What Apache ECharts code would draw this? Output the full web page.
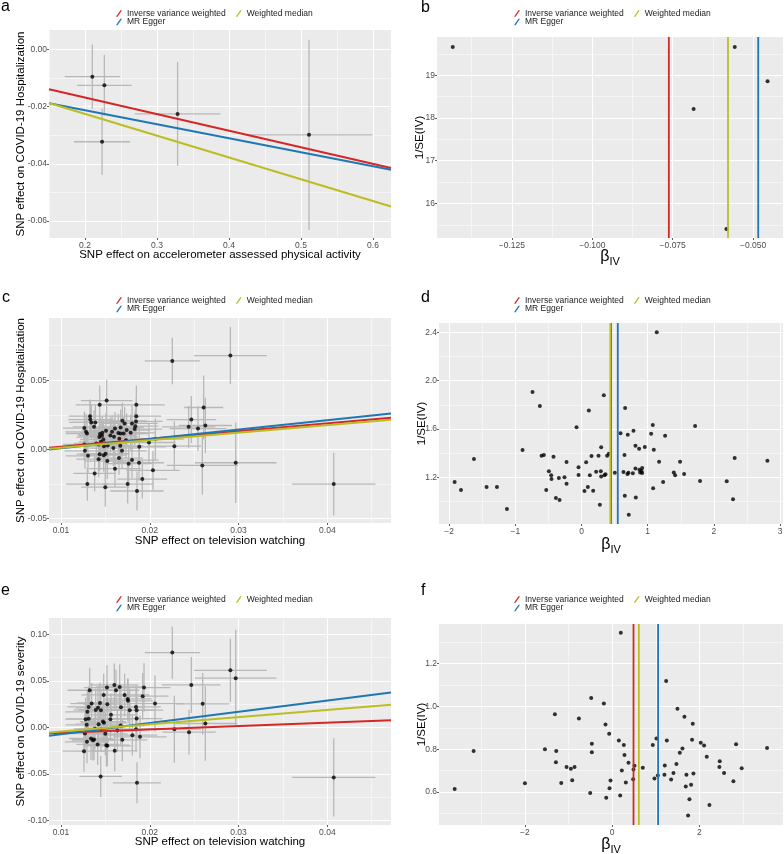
<!DOCTYPE html>
<html>
<head>
<meta charset="utf-8">
<script src="https://cdn.jsdelivr.net/npm/echarts@6/dist/echarts.min.js"></script>
<style>
  html, body { margin: 0; padding: 0; background: #fff; }
  #chart { width: 784px; height: 854px; }
</style>
</head>
<body>
<div id="chart"></div>
<script>
// methods, in legend order used below
const methods = ['Inverse variance weighted', 'MR Egger', 'Weighted median'];
const colors = ['#D62728', '#1F77B4', '#BCBD22'];

// panel a: [x, y, xerr, yerr]
const aPoints = [
  [0.2102, -0.0096, 0.0383, 0.0112],
  [0.2269, -0.0126, 0.0379, 0.0106],
  [0.2237, -0.0323, 0.0390, 0.0115],
  [0.3286, -0.0226, 0.0597, 0.0181],
  [0.5111, -0.0299, 0.0882, 0.0332]
];
const aLineStart = [-0.0140, -0.0189, -0.0188];   // y at x = 0.15
const aLineEnd = [-0.0415, -0.0421, -0.0549];     // y at x = 0.625
const aXTicks = [0.2, 0.3, 0.4, 0.5, 0.6];
const aYTicks = [-0.06, -0.04, -0.02, 0];

// panel b: [beta_IV, 1/SE]
const bPoints = [[-0.1434, 19.66], [-0.0685, 18.21], [-0.0557, 19.66], [-0.0583, 15.40], [-0.0455, 18.86]];
const bEstimates = [-0.0762, -0.0484, -0.0578];
const bXTicks = [-0.125, -0.1, -0.075, -0.05];
const bYTicks = [16, 17, 18, 19];

// panel c: [x, y, xerr, yerr]
const cPoints = [
  [0.02254, 0.0639, 0.0031, 0.0168], [0.02908, 0.0678, 0.0041, 0.0207], [0.04072, -0.0250, 0.0047, 0.0227],
  [0.02968, -0.0096, 0.0046, 0.0290], [0.02592, -0.0115, 0.0040, 0.0210], [0.02607, 0.0303, 0.0022, 0.0230],
  [0.02626, 0.0173, 0.0030, 0.0200], [0.02468, 0.0216, 0.0028, 0.0170], [0.02438, 0.0163, 0.0030, 0.0150],
  [0.02543, 0.0151, 0.0032, 0.0160], [0.02277, 0.0024, 0.0030, 0.0180], [0.02036, -0.0151, 0.0030, 0.0140],
  [0.01916, -0.0214, 0.0028, 0.0140], [0.01856, -0.0300, 0.0030, 0.0140], [0.01879, -0.0096, 0.0028, 0.0130],
  [0.01800, -0.0077, 0.0030, 0.0130], [0.01751, -0.0250, 0.0029, 0.0140], [0.01762, -0.0103, 0.0027, 0.0130],
  [0.01849, 0.0322, 0.0032, 0.0140], [0.01849, 0.0240, 0.0028, 0.0130], [0.01845, 0.0202, 0.0030, 0.0140],
  [0.01837, 0.0168, 0.0026, 0.0120], [0.01800, 0.0188, 0.0029, 0.0130], [0.01830, 0.0147, 0.0031, 0.0120],
  [0.01882, 0.0019, 0.0030, 0.0130], [0.02063, 0.0075, 0.0032, 0.0150], [0.01991, 0.0050, 0.0030, 0.0140],
  [0.01785, 0.0120, 0.0028, 0.0130], [0.01740, 0.0140, 0.0027, 0.0120], [0.01732, 0.0067, 0.0029, 0.0130],
  [0.01706, 0.0115, 0.0028, 0.0120], [0.01672, 0.0115, 0.0026, 0.0130], [0.01657, 0.0077, 0.0027, 0.0120],
  [0.01646, 0.0118, 0.0030, 0.0140], [0.01672, 0.0159, 0.0026, 0.0130], [0.01608, 0.0151, 0.0028, 0.0120],
  [0.01597, 0.0091, 0.0027, 0.0130], [0.01608, -0.0139, 0.0029, 0.0130], [0.01653, -0.0062, 0.0027, 0.0120],
  [0.01687, -0.0010, 0.0028, 0.0130], [0.01668, 0.0026, 0.0026, 0.0120], [0.01590, 0.0010, 0.0027, 0.0130],
  [0.01575, 0.0127, 0.0026, 0.0120], [0.01556, 0.0101, 0.0028, 0.0130], [0.01514, 0.0353, 0.0029, 0.0150],
  [0.01499, -0.0272, 0.0027, 0.0140], [0.01522, -0.0084, 0.0026, 0.0130], [0.01503, -0.0031, 0.0027, 0.0120],
  [0.01492, 0.0043, 0.0025, 0.0130], [0.01484, 0.0024, 0.0026, 0.0120], [0.01507, 0.0135, 0.0027, 0.0130],
  [0.01466, 0.0120, 0.0025, 0.0120], [0.01477, 0.0072, 0.0026, 0.0130], [0.01462, 0.0099, 0.0027, 0.0120],
  [0.01439, 0.0111, 0.0025, 0.0130], [0.01432, 0.0089, 0.0026, 0.0120], [0.01436, 0.0322, 0.0027, 0.0140],
  [0.01424, 0.0036, 0.0025, 0.0130], [0.01436, -0.0034, 0.0026, 0.0120], [0.01424, -0.0070, 0.0025, 0.0130],
  [0.01481, -0.0041, 0.0026, 0.0120], [0.01379, -0.0173, 0.0024, 0.0130], [0.01398, 0.0043, 0.0025, 0.0120],
  [0.01387, 0.0195, 0.0026, 0.0130], [0.01372, 0.0163, 0.0024, 0.0120], [0.01342, 0.0195, 0.0025, 0.0130],
  [0.01327, 0.0240, 0.0024, 0.0120], [0.01330, 0.0216, 0.0025, 0.0130], [0.01297, -0.0250, 0.0024, 0.0120],
  [0.01304, -0.0046, 0.0025, 0.0130], [0.01293, 0.0115, 0.0024, 0.0120], [0.01282, 0.0127, 0.0023, 0.0130],
  [0.01263, 0.0154, 0.0024, 0.0120], [0.01270, -0.0010, 0.0023, 0.0130], [0.01263, 0.0036, 0.0024, 0.0120],
  [0.01450, 0.0055, 0.0025, 0.0130], [0.01526, 0.0029, 0.0026, 0.0120], [0.01691, 0.0207, 0.0027, 0.0130],
  [0.01717, 0.0188, 0.0026, 0.0120]
];
const cLineStart = [0.0012, 0.0000, 0.0005];   // y at x = 0.00865
const cLineEnd = [0.0228, 0.0260, 0.0214];     // y at x = 0.04717
const cXTicks = [0.01, 0.02, 0.03, 0.04];
const cYTicks = [-0.05, 0, 0.05];

// panel d: [beta_IV, 1/SE]
const dPoints = [
  [-1.917, 1.161], [-1.821, 1.095], [-1.625, 1.352], [-1.434, 1.120], [-1.278, 1.120], [-1.127, 0.938],
  [-0.891, 1.426], [-0.740, 1.906], [-0.629, 1.790], [-0.604, 1.379], [-0.569, 1.385], [-0.423, 1.371],
  [-0.533, 1.095], [-0.493, 1.250], [-0.458, 1.217], [-0.453, 1.186], [-0.387, 1.029], [-0.342, 1.194],
  [-0.332, 1.012], [-0.257, 1.200], [-0.226, 1.327], [-0.226, 1.148], [-0.075, 1.614], [-0.045, 1.283],
  [-0.045, 1.219], [0.045, 1.087], [0.070, 1.324], [0.096, 1.120], [0.111, 1.754], [0.126, 1.217],
  [0.151, 1.377], [0.176, 1.090], [0.221, 1.247], [0.257, 1.379], [0.277, 0.974], [0.292, 1.250],
  [0.297, 1.448], [0.297, 1.206], [0.337, 1.879], [0.347, 1.217], [0.362, 1.225], [0.387, 1.379],
  [0.413, 1.396], [0.503, 1.239], [0.589, 1.564], [0.634, 1.244], [0.649, 1.385], [0.654, 1.048],
  [0.659, 1.774], [0.694, 1.228], [0.699, 1.553], [0.709, 1.239], [0.714, 0.891], [0.775, 1.233],
  [0.785, 1.586], [0.815, 1.462], [0.815, 1.274], [0.820, 1.034], [0.870, 1.437], [0.875, 1.263],
  [0.886, 1.241], [0.906, 1.252], [0.916, 1.277], [0.916, 1.236], [0.956, 1.451], [1.052, 1.561],
  [1.077, 1.633], [1.082, 1.109], [1.092, 1.429], [1.137, 2.400], [1.172, 1.330], [1.233, 1.161],
  [1.263, 1.545], [1.394, 1.241], [1.414, 1.217], [1.489, 1.330], [1.550, 1.228], [1.716, 1.625],
  [1.791, 1.170], [2.194, 1.167], [2.289, 1.018], [2.314, 1.360], [2.808, 1.338]
];
const dEstimates = [0.445, 0.548, 0.435];
const dXTicks = [-2, -1, 0, 1, 2, 3];
const dYTicks = [1.2, 1.6, 2.0, 2.4];

// panel e: [x, y, xerr, yerr]
const ePoints = [
  [0.02254, 0.0804, 0.0031, 0.028], [0.02908, 0.0614, 0.0041, 0.034], [0.02968, 0.0529, 0.0046, 0.052],
  [0.04072, -0.0536, 0.0047, 0.042], [0.02468, 0.0457, 0.0033, 0.030], [0.02596, 0.0254, 0.0030, 0.033],
  [0.02626, 0.0043, 0.0036, 0.040], [0.02442, -0.0050, 0.0030, 0.024], [0.02277, -0.0018, 0.0030, 0.036],
  [0.02059, 0.0257, 0.0032, 0.030], [0.01935, 0.0429, 0.0030, 0.026], [0.01920, 0.0336, 0.0029, 0.025],
  [0.01856, -0.0593, 0.0027, 0.022], [0.01447, -0.0525, 0.0024, 0.022], [0.01852, 0.0096, 0.0029, 0.024],
  [0.01845, 0.0221, 0.0028, 0.023], [0.01852, 0.0186, 0.0030, 0.025], [0.01845, -0.0018, 0.0028, 0.024],
  [0.01890, -0.0100, 0.0030, 0.023], [0.01804, -0.0082, 0.0028, 0.022], [0.01774, 0.0186, 0.0027, 0.023],
  [0.01755, 0.0286, 0.0028, 0.024], [0.01751, 0.0307, 0.0027, 0.022], [0.01717, 0.0350, 0.0028, 0.023],
  [0.01661, 0.0436, 0.0027, 0.024], [0.01676, 0.0218, 0.0026, 0.022], [0.01691, -0.0132, 0.0028, 0.023],
  [0.01672, 0.0021, 0.0026, 0.022], [0.01635, -0.0032, 0.0027, 0.023], [0.01620, 0.0400, 0.0026, 0.022],
  [0.01601, 0.0457, 0.0027, 0.023], [0.01605, -0.0250, 0.0026, 0.022], [0.01563, 0.0136, 0.0027, 0.023],
  [0.01556, 0.0089, 0.0026, 0.022], [0.01522, 0.0250, 0.0027, 0.023], [0.01518, 0.0429, 0.0026, 0.024],
  [0.01522, -0.0196, 0.0027, 0.022], [0.01499, -0.0068, 0.0025, 0.023], [0.01484, 0.0050, 0.0026, 0.022],
  [0.01481, 0.0350, 0.0025, 0.023], [0.01473, 0.0064, 0.0026, 0.022], [0.01450, 0.0186, 0.0025, 0.023],
  [0.01439, 0.0264, 0.0026, 0.022], [0.01450, -0.0018, 0.0025, 0.023], [0.01424, 0.0036, 0.0026, 0.022],
  [0.01417, 0.0211, 0.0025, 0.023], [0.01413, -0.0182, 0.0024, 0.022], [0.01391, 0.0189, 0.0025, 0.023],
  [0.01360, -0.0136, 0.0024, 0.022], [0.01338, -0.0118, 0.0025, 0.023], [0.01345, 0.0257, 0.0024, 0.022],
  [0.01323, 0.0400, 0.0025, 0.024], [0.01312, 0.0221, 0.0024, 0.022], [0.01297, 0.0168, 0.0025, 0.023],
  [0.01290, 0.0029, 0.0024, 0.022], [0.01293, -0.0154, 0.0025, 0.023], [0.01270, -0.0064, 0.0024, 0.022],
  [0.01278, 0.0089, 0.0023, 0.023], [0.01259, -0.0254, 0.0024, 0.022], [0.01312, 0.0093, 0.0025, 0.023],
  [0.01383, -0.0014, 0.0024, 0.022], [0.01511, -0.0189, 0.0026, 0.023], [0.01372, -0.0129, 0.0025, 0.022]
];
const eLineStart = [-0.0061, -0.0089, -0.0054];   // y at x = 0.00865
const eLineEnd = [0.0079, 0.0375, 0.0243];        // y at x = 0.04717
const eXTicks = [0.01, 0.02, 0.03, 0.04];
const eYTicks = [-0.1, -0.05, 0, 0.05, 0.1];

// panel f: [beta_IV, 1/SE]
const fPoints = [
  [-3.611, 0.613], [-3.176, 0.792], [-2.000, 0.641], [-1.542, 0.800], [-1.313, 0.964], [-1.282, 0.791],
  [-1.290, 0.739], [-1.168, 0.642], [-1.046, 0.716], [-0.947, 0.708], [-0.916, 0.655], [-0.863, 0.716],
  [-0.763, 0.944], [-0.504, 0.595], [-0.481, 1.039], [-0.466, 0.825], [-0.466, 0.786], [-0.191, 1.014],
  [-0.153, 0.916], [-0.137, 0.573], [-0.069, 0.872], [-0.061, 0.617], [-0.038, 0.653], [0.153, 0.841],
  [0.183, 0.583], [0.198, 1.345], [0.221, 0.700], [0.267, 0.819], [0.282, 0.773], [0.313, 0.644],
  [0.374, 0.736], [0.481, 0.659], [0.489, 0.705], [0.511, 0.722], [0.702, 0.713], [0.931, 0.820],
  [0.969, 0.663], [1.015, 0.850], [1.046, 0.677], [1.206, 0.723], [1.198, 0.680], [1.237, 1.119],
  [1.252, 0.841], [1.351, 0.658], [1.405, 0.688], [1.473, 0.730], [1.496, 0.989], [1.550, 0.783],
  [1.611, 0.803], [1.656, 0.952], [1.687, 0.625], [1.702, 0.680], [1.740, 0.489], [1.771, 0.566],
  [1.809, 0.633], [1.832, 0.844], [1.847, 0.919], [1.863, 0.686], [2.031, 0.830], [2.107, 0.817],
  [2.168, 0.764], [2.229, 0.539], [2.466, 0.744], [2.458, 0.717], [2.565, 0.688], [2.779, 0.650],
  [2.840, 0.823], [2.969, 0.711], [3.550, 0.805]
];
const fEstimates = [0.489, 1.053, 0.611];
const fXTicks = [-2, 0, 2];
const fYTicks = [0.6, 0.8, 1.0, 1.2];

const FONT = 'Liberation Sans, Arial, Helvetica, sans-serif';
const SLASH = 'path://M0,10 L7,0 L9.5,0 L2.5,10 Z';

const chart = echarts.init(document.getElementById('chart'));

const grids = [
  { left: 49, top: 30, width: 342, height: 208 },    // a
  { left: 437, top: 37, width: 346, height: 201 },   // b
  { left: 49, top: 318, width: 342, height: 205 },   // c
  { left: 439, top: 323, width: 344, height: 201 },  // d
  { left: 49, top: 618, width: 342, height: 207 },   // e
  { left: 439, top: 624, width: 344, height: 201 }   // f
].map(g => ({ ...g, show: true, backgroundColor: '#EBEBEB', borderWidth: 0, containLabel: false, outerBoundsMode: 'none' }));

const xAxes = [], yAxes = [];
const titleStyle = { fontSize: 11.5, color: '#000', fontFamily: FONT };
const betaStyle = {
  rich: {
    b: { fontSize: 16, color: '#000', fontFamily: FONT },
    s: { fontSize: 11, color: '#000', fontFamily: FONT, verticalAlign: 'bottom', padding: [9, 0, 0, 0] }
  }
};

// adds a labelled axis and a hidden one that only draws the thin minor grid
function addAxis(list, grid, isX, min, max, major, minor, digits, unicodeMinus, name, nameGap, nameStyle) {
  const fmt = v => {
    let s = Number(v).toFixed(digits);
    if (/^-0(\.0*)?$/.test(s)) s = s.slice(1);
    return unicodeMinus ? s.replace('-', '\u2212') : s;
  };
  const idx = list.length;
  list.push({
    type: 'value', gridIndex: grid, min, max,
    position: isX ? 'bottom' : 'left',
    axisLine: { show: false, onZero: false },
    axisTick: { show: true, length: 2, lineStyle: { color: '#333', width: 0.8 }, customValues: major },
    axisLabel: {
      customValues: major, formatter: fmt, color: '#4D4D4D', fontSize: 8.5, fontFamily: FONT,
      margin: isX ? 3.5 : 2
    },
    splitLine: { show: true, lineStyle: { color: '#FFFFFF', width: 1.1 } },
    name, nameLocation: 'middle', nameGap, nameTextStyle: nameStyle, nameMoveOverlap: false
  });
  list.push({
    type: 'value', gridIndex: grid, min, max,
    position: isX ? 'top' : 'right',
    axisLine: { show: false, onZero: false },
    axisTick: { show: false, customValues: minor },
    axisLabel: { show: false, customValues: minor },
    splitLine: { show: true, lineStyle: { color: '#FFFFFF', width: 0.5 } }
  });
  return idx;
}

const series = [];
function addErrorBars(xi, yi, pts) {
  series.push({
    type: 'custom', xAxisIndex: xi, yAxisIndex: yi, data: pts, clip: true, silent: true, z: 1,
    encode: { x: 0, y: 1 },
    renderItem: (params, api) => {
      const x = api.value(0), y = api.value(1), ex = api.value(2), ey = api.value(3);
      const h0 = api.coord([x - ex, y]), h1 = api.coord([x + ex, y]);
      const v0 = api.coord([x, y - ey]), v1 = api.coord([x, y + ey]);
      const style = { stroke: '#B8B8B8', lineWidth: 1.3 };
      return {
        type: 'group', children: [
          { type: 'line', shape: { x1: h0[0], y1: h0[1], x2: h1[0], y2: h1[1] }, style },
          { type: 'line', shape: { x1: v0[0], y1: v0[1], x2: v1[0], y2: v1[1] }, style }
        ]
      };
    }
  });
}
function addPoints(xi, yi, pts) {
  series.push({
    type: 'scatter', xAxisIndex: xi, yAxisIndex: yi, silent: true, z: 2,
    data: pts.map(p => [p[0], p[1]]), symbolSize: 4, itemStyle: { color: '#000' }
  });
}
function addFitLines(xi, yi, xRange, starts, ends) {
  methods.forEach((m, i) => series.push({
    type: 'line', name: m, xAxisIndex: xi, yAxisIndex: yi, silent: true, z: 3,
    data: [[xRange[0], starts[i]], [xRange[1], ends[i]]], symbol: 'none',
    color: colors[i], itemStyle: { color: colors[i] }, lineStyle: { color: colors[i], width: 2 }
  }));
}
function addVLines(xi, yi, yRange, estimates) {
  methods.forEach((m, i) => series.push({
    type: 'line', name: m, xAxisIndex: xi, yAxisIndex: yi, silent: true, z: 3,
    data: [[estimates[i], yRange[0]], [estimates[i], yRange[1]]], symbol: 'none',
    color: colors[i], itemStyle: { color: colors[i] }, lineStyle: { color: colors[i], width: 1.8 }
  }));
}

const betaName = '{b|\u03B2}{s|IV}';

// a
let xi = addAxis(xAxes, 0, true, 0.15, 0.625, aXTicks, [0.15, 0.25, 0.35, 0.45, 0.55], 1, false,
  'SNP effect on accelerometer assessed physical activity', 11, titleStyle);
let yi = addAxis(yAxes, 0, false, -0.0659, 0.0067, aYTicks, [-0.05, -0.03, -0.01], 2, false,
  'SNP effect on COVID-19 Hospitalization', 22, titleStyle);
addErrorBars(xi, yi, aPoints);
addPoints(xi, yi, aPoints);
addFitLines(xi, yi, [0.15, 0.625], aLineStart, aLineEnd);

// b
xi = addAxis(xAxes, 1, true, -0.1483, -0.0407, bXTicks, [-0.1375, -0.1125, -0.0875, -0.0625], 3, true,
  betaName, 9, betaStyle);
yi = addAxis(yAxes, 1, false, 15.19, 19.895, bYTicks, [15.5, 16.5, 17.5, 18.5, 19.5], 0, false,
  '1/SE(IV)', 11, titleStyle);
addPoints(xi, yi, bPoints);
addVLines(xi, yi, [15.19, 19.895], bEstimates);

// c
xi = addAxis(xAxes, 2, true, 0.00865, 0.04717, cXTicks, [0.015, 0.025, 0.035, 0.045], 2, false,
  'SNP effect on television watching', 12, titleStyle);
yi = addAxis(yAxes, 2, false, -0.0531, 0.0949, cYTicks, [-0.025, 0.025, 0.075], 2, false,
  'SNP effect on COVID-19 Hospitalization', 22, titleStyle);
addErrorBars(xi, yi, cPoints);
addPoints(xi, yi, cPoints);
addFitLines(xi, yi, [0.00865, 0.04717], cLineStart, cLineEnd);

// d
xi = addAxis(xAxes, 3, true, -2.153, 3.044, dXTicks, [-1.5, -0.5, 0.5, 1.5, 2.5], 0, true,
  betaName, 11, betaStyle);
yi = addAxis(yAxes, 3, false, 0.814, 2.477, dYTicks, [1.0, 1.4, 1.8, 2.2], 1, false,
  '1/SE(IV)', 11, titleStyle);
addPoints(xi, yi, dPoints);
addVLines(xi, yi, [0.814, 2.477], dEstimates);

// e
xi = addAxis(xAxes, 4, true, 0.00865, 0.04717, eXTicks, [0.015, 0.025, 0.035, 0.045], 2, false,
  'SNP effect on television watching', 11, titleStyle);
yi = addAxis(yAxes, 4, false, -0.1046, 0.1175, eYTicks, [-0.075, -0.025, 0.025, 0.075], 2, false,
  'SNP effect on COVID-19 severity', 22, titleStyle);
addErrorBars(xi, yi, ePoints);
addPoints(xi, yi, ePoints);
addFitLines(xi, yi, [0.00865, 0.04717], eLineStart, eLineEnd);

// f
xi = addAxis(xAxes, 5, true, -3.97, 3.916, fXTicks, [-3, -1, 1, 3], 0, true,
  betaName, 10, betaStyle);
yi = addAxis(yAxes, 5, false, 0.445, 1.386, fYTicks, [0.5, 0.7, 0.9, 1.1, 1.3], 1, false,
  '1/SE(IV)', 11, titleStyle);
addPoints(xi, yi, fPoints);
addVLines(xi, yi, [0.445, 1.386], fEstimates);

// two-row legends: IVW + Weighted median on the first row, MR Egger below
function legendRows(left, top) {
  const base = {
    orient: 'horizontal', left, itemWidth: 6, itemHeight: 7, itemGap: 10, padding: 0,
    selectedMode: false, icon: SLASH,
    textStyle: { fontSize: 8.5, color: '#1A1A1A', fontFamily: FONT }
  };
  return [
    { ...base, top, data: [methods[0], methods[2]] },
    { ...base, top: top + 8.5, data: [methods[1]] }
  ];
}
const legends = [
  ...legendRows(116, 9), ...legendRows(514, 9),
  ...legendRows(116, 296), ...legendRows(514, 296),
  ...legendRows(116, 595), ...legendRows(514, 595)
];

const panelTitle = (text, left, top) => ({
  text, left, top, padding: 0,
  textStyle: { fontSize: 16, fontWeight: 'normal', color: '#000', fontFamily: FONT }
});

chart.setOption({
  animation: false,
  backgroundColor: '#FFFFFF',
  title: [
    panelTitle('a', 1, -1), panelTitle('b', 421, 0),
    panelTitle('c', 2, 290), panelTitle('d', 421, 290),
    panelTitle('e', 1, 583), panelTitle('f', 421, 583)
  ],
  legend: legends,
  grid: grids,
  xAxis: xAxes,
  yAxis: yAxes,
  series
});

window.addEventListener('resize', chart.resize);
</script>
</body>
</html>
